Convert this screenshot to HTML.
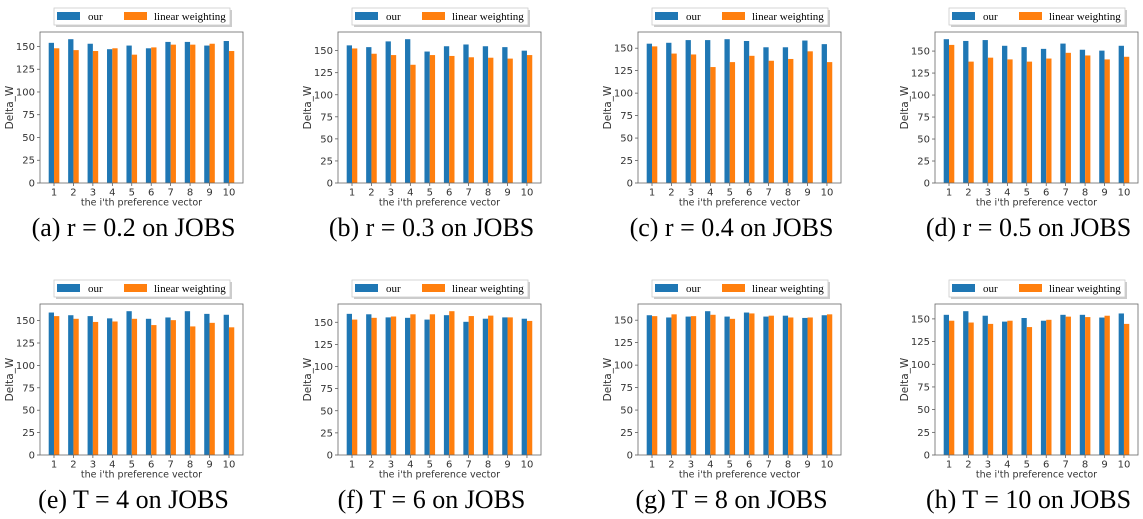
<!DOCTYPE html>
<html><head><meta charset="utf-8"><style>
html,body{margin:0;padding:0;background:#fff;}
svg{display:block;}
</style></head><body>
<svg id="fig" width="1143" height="519" viewBox="0 0 1143 519" xmlns="http://www.w3.org/2000/svg"></svg>
<script>
const categories = ["1","2","3","4","5","6","7","8","9","10"];
const yTicks = [0,25,50,75,100,125,150];
const captions = ["(a) r = 0.2 on JOBS","(b) r = 0.3 on JOBS","(c) r = 0.4 on JOBS","(d) r = 0.5 on JOBS","(e) T = 4 on JOBS","(f) T = 6 on JOBS","(g) T = 8 on JOBS","(h) T = 10 on JOBS"];
const ourA = [154,158,153,147,151,148,155,155,151,156];
const linA = [148,146,145,148,141,149,152,152,153,145];
const ourB = [156,154,160.5,163,149,155,157,155,154,150];
const linB = [152.5,146.5,145,134,145,144,142.5,142,141,145];
const ourC = [155,156,159,159,160,158,151,151,158.5,154.5];
const linC = [152,144,143,129,134.5,141.5,136,138,146.5,134.5];
const ourD = [163.5,161.5,162.5,156,154.5,152.5,158.5,151.5,150.5,156];
const linD = [157,138,142.5,140.5,138,141.5,148,145,140.5,143.5];
const ourE = [159,156,155,152.5,160.5,152,153.5,160.5,157.5,156.5];
const linE = [155,152,148.5,149,152,145,150.5,143.5,147.5,142.5];
const ourF = [159.5,159,155.5,155,153,158,150.5,154,155.5,154];
const linF = [153,155,156.5,159,159,162.5,157,157.5,155.5,151.5];
const ourG = [155.5,153,154,160,154,158.5,154,155,152.5,155.5];
const linG = [154.5,156.5,154.5,156,151.5,157.5,155,153,153,156.5];
const ourH = [154.5,158.5,153.5,147,151,148,154.5,154.5,151.5,156];
const linH = [148,146,144.5,148,141,149,152.5,152,153.5,144.5];
const ourSeries = [ourA,ourB,ourC,ourD,ourE,ourF,ourG,ourH];
const linSeries = [linA,linB,linC,linD,linE,linF,linG,linH];

const NS = "http://www.w3.org/2000/svg";
const svg = document.getElementById('fig');
function mk(tag, attrs, parent){
  const e = document.createElementNS(NS, tag);
  for (const k in attrs) e.setAttribute(k, attrs[k]);
  parent.appendChild(e);
  return e;
}
const colLeft = [40, 338, 638, 935];
const rowTop = [32, 304];
const W = 203, H = 151;
const names = ["a","b","c","d","e","f","g","h"];

for (let p = 0; p < 8; p++) {
  const L = colLeft[p % 4], T = rowTop[Math.floor(p / 4)], B = T + H;
  const g = mk('g', {}, svg);
  
  
  const our = ourSeries[p], lin = linSeries[p];
  const ymax = 1.05 * Math.max(...our, ...lin);
  const y = v => B - v / ymax * H;
  const step = 19.44;
  const x = i => L + 14 + i * step;
  const bw = 5.3;
  const lg = mk('g', {}, g);
  
  
  const lx = L + 14, ly = T - 24;
  mk('rect', {x: lx + 2, y: ly + 2, width: 176, height: 17, fill: '#999', opacity: 0.5}, lg);
  mk('rect', {x: lx, y: ly, width: 176, height: 17, fill: '#fff', stroke: '#ccc', 'stroke-width': 0.8}, lg);
  const p1 = mk('rect', {x: lx + 3, y: ly + 4, width: 23, height: 8, fill: '#1f77b4'}, lg);
  
  
  mk('text', {x: lx + 34, y: ly + 12, 'font-family': 'Liberation Serif, serif', 'font-size': 11, fill: '#000'}, lg).textContent = 'our';
  const p2 = mk('rect', {x: lx + 70, y: ly + 4, width: 23, height: 8, fill: '#ff7f0e'}, lg);
  
  
  mk('text', {x: lx + 100, y: ly + 12, 'font-family': 'Liberation Serif, serif', 'font-size': 11, fill: '#000'}, lg).textContent = 'linear weighting';
  for (let i = 0; i < categories.length; i++) {
    const b1 = mk('rect', {x: x(i) - bw, y: y(our[i]), width: bw, height: B - y(our[i]), fill: '#1f77b4'}, g);
    
    
    const b2 = mk('rect', {x: x(i), y: y(lin[i]), width: bw, height: B - y(lin[i]), fill: '#ff7f0e'}, g);
    
    
    mk('line', {x1: x(i), x2: x(i), y1: B, y2: B + 3, stroke: '#444', 'stroke-width': 0.7}, g);
    const t = mk('text', {x: x(i), y: B + 12.5, 'text-anchor': 'middle', 'font-family': 'DejaVu Sans, sans-serif', 'font-size': 10, fill: '#333'}, g);
    t.textContent = categories[i];
    
    
  }
  for (const v of yTicks) {
    mk('line', {x1: L - 3, x2: L, y1: y(v), y2: y(v), stroke: '#444', 'stroke-width': 0.7}, g);
    const t = mk('text', {x: L - 5, y: y(v) + 3.5, 'text-anchor': 'end', 'font-family': 'DejaVu Sans, sans-serif', 'font-size': 10, fill: '#333'}, g);
    t.textContent = v;
    
    
  }
  const ax = mk('rect', {x: L, y: T, width: W, height: H, fill: 'none', stroke: '#666', 'stroke-width': 0.8}, g);
  
  
  const yl = mk('text', {x: 0, y: 0, transform: `translate(${L - 27},${T + H / 2}) rotate(-90)`, 'text-anchor': 'middle', 'font-family': 'DejaVu Sans, sans-serif', 'font-size': 10.5, fill: '#333'}, g);
  yl.textContent = 'Delta_W';
  
  
  const xl = mk('text', {x: L + W / 2, y: B + 22.5, 'text-anchor': 'middle', 'font-family': 'DejaVu Sans, sans-serif', 'font-size': 9.5, fill: '#333'}, g);
  xl.textContent = "the i'th preference vector";
  
  
  const cap = mk('text', {x: L + W / 2 - 8, y: B + 53, 'text-anchor': 'middle', 'font-family': 'Liberation Serif, serif', 'font-size': 26, fill: '#000'}, g);
  cap.textContent = captions[p];
  
  
}
</script>
</body></html>
